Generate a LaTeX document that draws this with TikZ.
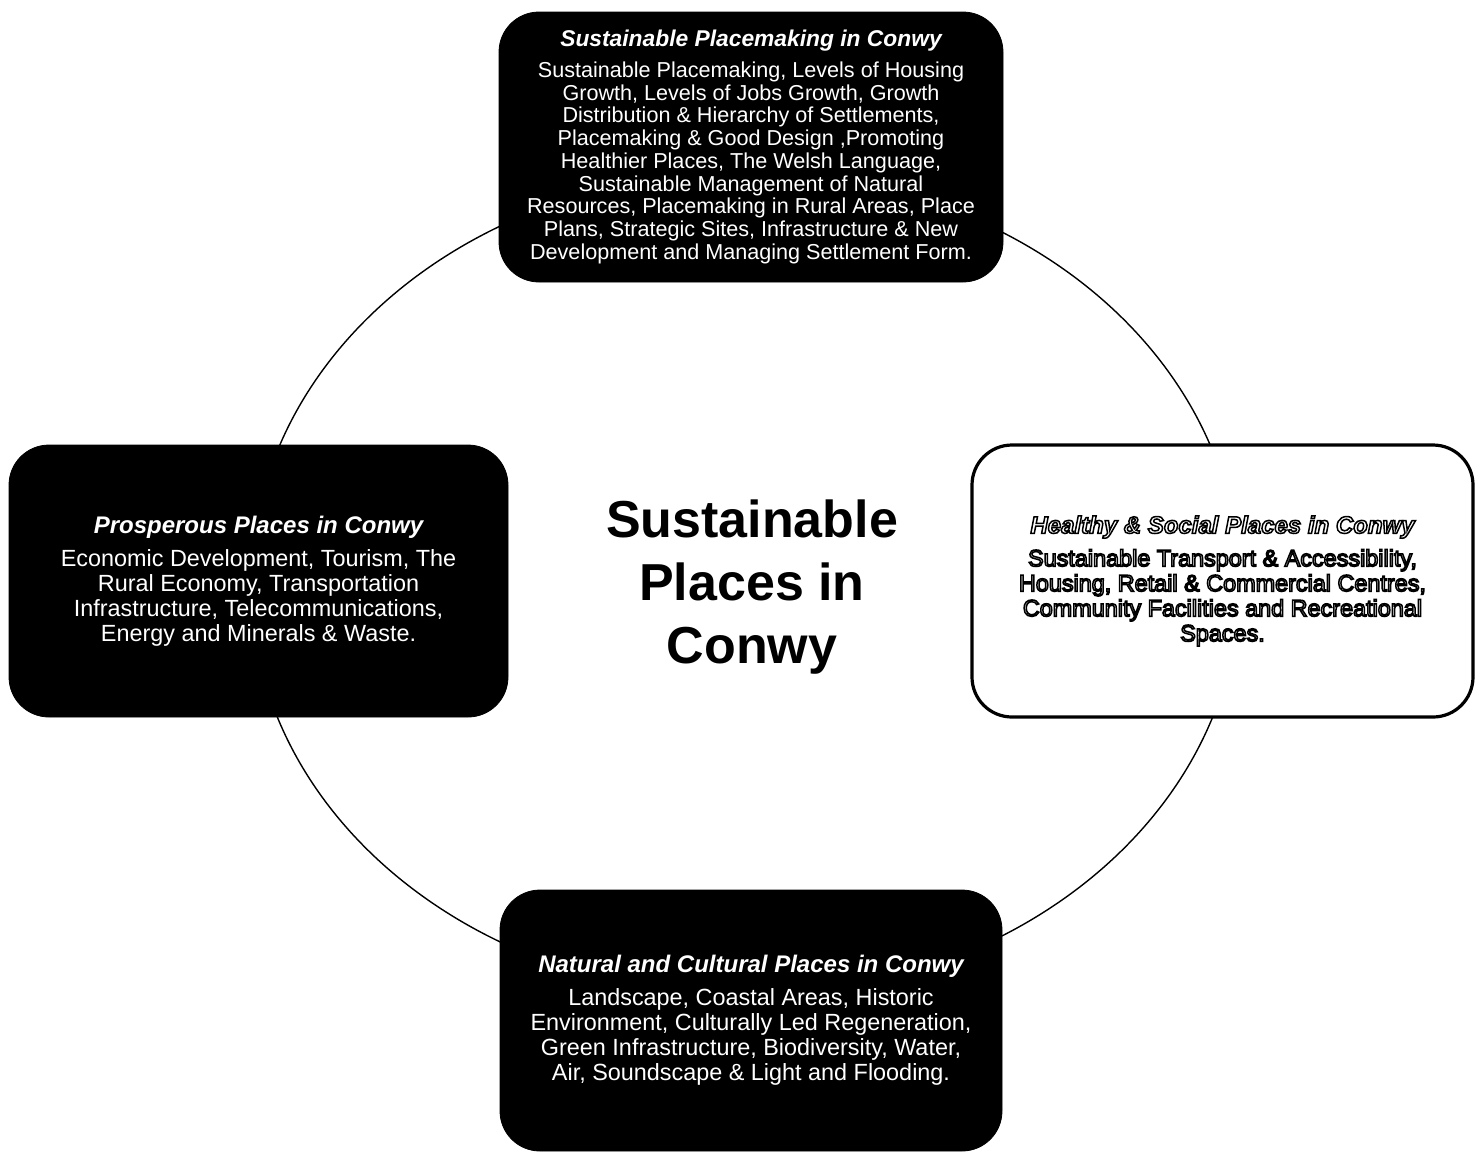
\documentclass[tikz,border=0pt]{standalone}
\usepackage{fontspec}
\setmainfont{Liberation Sans}
% hollow letters: stroked outline only (text render mode 1)
\newcommand{\hollow}[1]{\special{pdf:literal direct 1 Tr 0.75 w}#1\special{pdf:literal direct 0 Tr 1 w}}

\begin{document}
\begin{tikzpicture}[x=0.5pt,y=-0.5pt,
   placebox/.style={draw=black,fill=black,text=white,rounded corners=20pt,
      inner sep=0pt,minimum width=251pt,minimum height=135pt,align=center,
      font=\fontsize{11.7}{12.5}\selectfont},
   whitebox/.style={placebox,fill=white,text=black,line width=1.6pt}]
   \useasboundingbox (0,0) rectangle (1484,1153);
   \newcommand{\boxhead}[1]{{\fontsize{12}{13}\selectfont\bfseries\itshape #1}}
   % the ring behind the four boxes
   \coordinate (ring) at (745,584);
   \draw[line width=0.7pt] (ring) ellipse [x radius=494, y radius=412];
   % centre
   \draw (752,587) node[align=center,font=\fontsize{26}{31.7}\selectfont\bfseries] (centre)
      {Sustainable\\Places in\\Conwy};
   % top
   \draw (751,147) node[placebox,minimum width=252pt,font=\fontsize{10.8}{11.35}\selectfont] (placemaking)
      {{\fontsize{11.4}{12}\selectfont\bfseries\itshape Sustainable Placemaking in Conwy}\\[4pt]
       Sustainable Placemaking, Levels of Housing\\
       Growth, Levels of Jobs Growth, Growth\\
       Distribution \& Hierarchy of Settlements,\\
       Placemaking \& Good Design ,Promoting\\
       Healthier Places, The Welsh Language,\\
       Sustainable Management of Natural\\
       Resources, Placemaking in Rural Areas, Place\\
       Plans, Strategic Sites, Infrastructure \& New\\
       Development and Managing Settlement Form.};
   % left
   \draw (258.5,581) node[placebox,minimum width=249.5pt,minimum height=136pt] (prosperous)
      {\boxhead{Prosperous Places in Conwy}\\[4pt]
       Economic Development, Tourism, The\\
       Rural Economy, Transportation\\
       Infrastructure, Telecommunications,\\
       Energy and Minerals \& Waste.};
   % right
   \draw (1222.5,581) node[whitebox,minimum width=250.5pt,minimum height=136pt] (social)
      {\boxhead{\hollow{Healthy \& Social Places in Conwy}}\\[4pt]
       \hollow{Sustainable Transport \& Accessibility,}\\
       \hollow{Housing, Retail \& Commercial Centres,}\\
       \hollow{Community Facilities and Recreational}\\
       \hollow{Spaces.}};
   % bottom
   \draw (751,1020.5) node[placebox,minimum height=130.5pt] (natural)
      {\boxhead{Natural and Cultural Places in Conwy}\\[4pt]
       Landscape, Coastal Areas, Historic\\
       Environment, Culturally Led Regeneration,\\
       Green Infrastructure, Biodiversity, Water,\\
       Air, Soundscape \& Light and Flooding.};
\end{tikzpicture}
\end{document}
